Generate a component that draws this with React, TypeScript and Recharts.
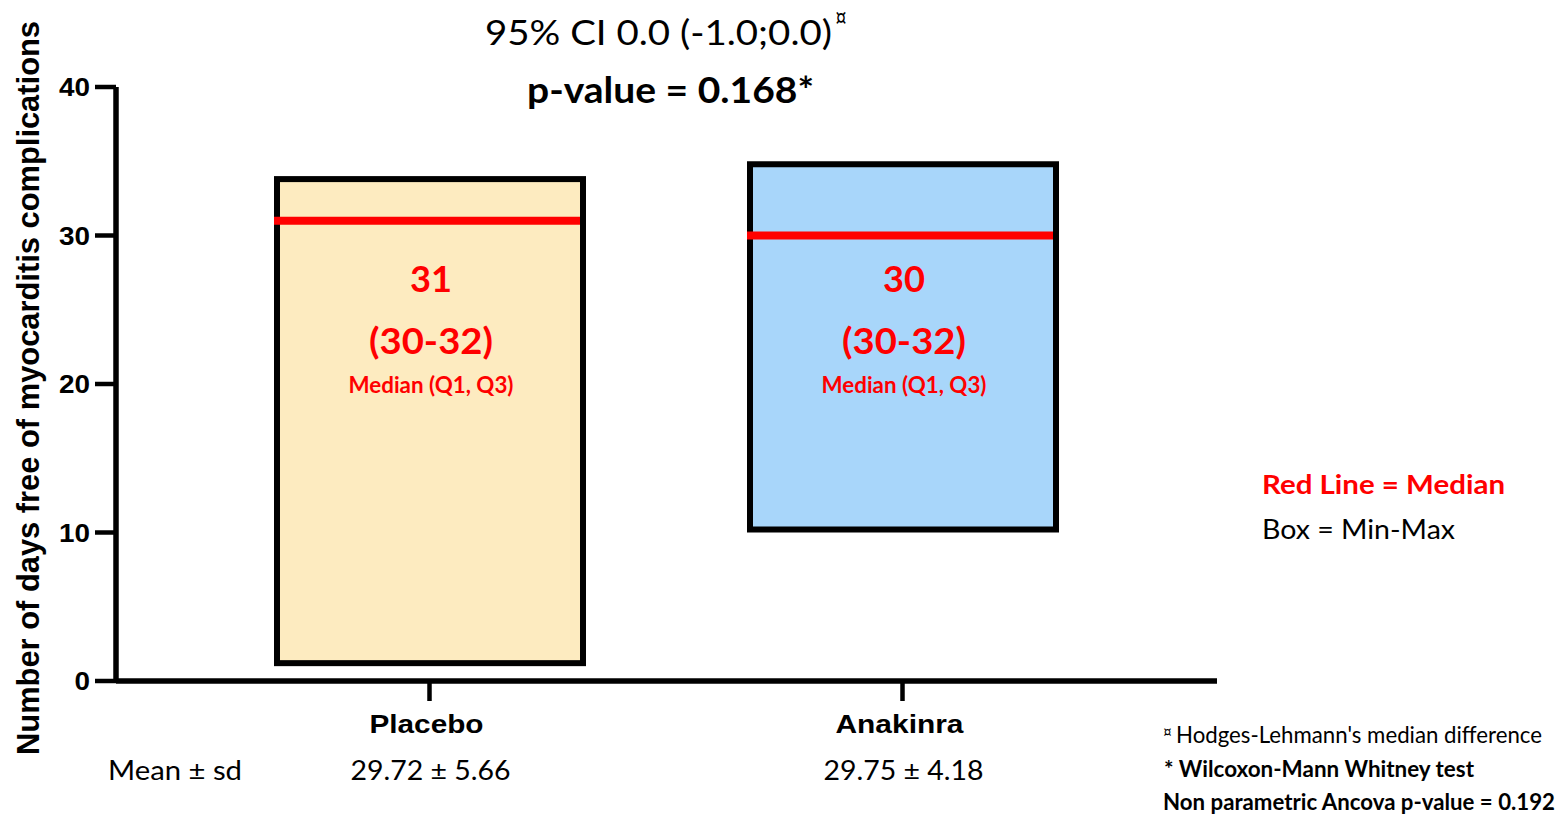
import React from 'react'
import { ComposedChart, Bar, XAxis, YAxis, LabelList } from 'recharts'

// groups and their summary values (days free of myocarditis complications)
const groups = ['Placebo', 'Anakinra']
const minVals = [1, 10]
const maxVals = [34, 35]
const medians = [31, 30]
const q1Vals = [30, 30]
const q3Vals = [32, 32]
const meanSd = ['29.72 ± 5.66', '29.75 ± 4.18']
const boxFills = ['#FDEBC0', '#A8D6FA']
const yTicks = [0, 10, 20, 30, 40]

const data = groups.map((g, i) => ({
  group: g,
  range: [minVals[i], maxVals[i]],
  median: medians[i],
  q1: q1Vals[i],
  q3: q3Vals[i],
  fill: boxFills[i],
}))

const CAL = 'Lato, "Open Sans", sans-serif'
const ARIAL = '"Liberation Sans", Arial, sans-serif'
const RED = '#FF0000'

function T({ x, y, len, size, bold, color = '#000', anchor = 'start', font = CAL, children }: any) {
  return (
    <text x={x} y={y} fontFamily={font} fontSize={size} fontWeight={bold ? 700 : 400} fill={color}
      textAnchor={anchor} textLength={len} lengthAdjust="spacingAndGlyphs">
      {children}
    </text>
  )
}

// box = min..max, stroke drawn inside the box, red line at the median
function BoxShape(props: any) {
  const { x, y, width, height, payload } = props
  const top = Math.min(y, y + height)
  const h = Math.abs(height)
  const [lo, hi] = payload.range
  const my = top + (h * (hi - payload.median)) / (hi - lo)
  const sw = 6
  return (
    <g>
      <rect x={x + sw / 2} y={top + sw / 2} width={width - sw} height={h - sw} fill={payload.fill} stroke="#000" strokeWidth={sw} />
      <line x1={x} x2={x + width - sw} y1={my} y2={my} stroke={RED} strokeWidth={8} />
    </g>
  )
}

function BoxLabels(props: any) {
  const { x, width, index } = props
  const cx = x + width / 2 + 1
  const d = data[index]
  return (
    <g>
      <T x={cx} y={292} anchor="middle" len={42} size={36} bold color={RED}>{String(d.median)}</T>
      <T x={cx} y={354} anchor="middle" len={124} size={37} bold color={RED}>{`(${d.q1}-${d.q3})`}</T>
      <T x={cx} y={393} anchor="middle" len={165} size={22} bold color={RED}>Median (Q1, Q3)</T>
    </g>
  )
}

const xLabelW = [114, 128]

function XTick(props: any) {
  const { x, payload } = props
  const i = groups.indexOf(payload.value)
  return (
    <g>
      <T x={x - 3} y={733} anchor="middle" len={xLabelW[i]} size={26} bold font={ARIAL}>{payload.value}</T>
      <T x={x + 1} y={780} anchor="middle" len={160} size={26}>{meanSd[i]}</T>
    </g>
  )
}

function YTick(props: any) {
  const { x, y, payload } = props
  const s = String(payload.value)
  return (
    <T x={x} y={y + 9} anchor="end" len={s.length * 15.5} size={25} bold font={ARIAL}>{s}</T>
  )
}

export default function App() {
  return (
    <div style={{ position: 'absolute', left: 0, top: 0, width: 1566, height: 816, background: '#fff' }}>
      <ComposedChart width={1566} height={816} data={data} margin={{ top: 87, right: 349, bottom: 75, left: 0 }}>
        <XAxis
          dataKey="group"
          type="category"
          interval={0}
          height={60}
          padding={{ left: 77, right: 78 }}
          axisLine={{ stroke: '#000', strokeWidth: 5.5 }}
          tickLine={{ stroke: '#000', strokeWidth: 4.5 }}
          tickSize={20}
          tick={<XTick />}
        />
        <YAxis
          domain={[0, 40]}
          ticks={yTicks}
          width={116}
          axisLine={{ stroke: '#000', strokeWidth: 5.5 }}
          tickLine={{ stroke: '#000', strokeWidth: 4.5 }}
          tickSize={21}
          tickMargin={5}
          tick={<YTick />}
        />
        <Bar dataKey="range" barSize={312} isAnimationActive={false} shape={<BoxShape />}>
          <LabelList dataKey="median" content={<BoxLabels />} />
        </Bar>
      </ComposedChart>
      <svg width={1566} height={816} style={{ position: 'absolute', left: 0, top: 0, pointerEvents: 'none' }}>
        <text transform="translate(39,388) rotate(-90)" fontFamily={ARIAL} fontSize={31} fontWeight={700}
          textAnchor="middle" textLength={734} lengthAdjust="spacingAndGlyphs">
          Number of days free of myocarditis complications
        </text>
        <T x={485} y={45} len={347} size={34}>95% CI 0.0 (-1.0;0.0)</T>
        <T x={835} y={27} len={12} size={26}>¤</T>
        <T x={527} y={103} len={287} size={36} bold>p-value = 0.168*</T>
        <T x={1262} y={494} len={243} size={27} bold color={RED}>Red Line = Median</T>
        <T x={1262} y={539} len={193} size={27}>Box = Min-Max</T>
        <T x={108} y={780} len={134} size={26}>Mean ± sd</T>
        <T x={1163} y={738} len={9} size={18}>¤</T>
        <T x={1176} y={743} len={366} size={23}>Hodges-Lehmann's median difference</T>
        <T x={1164} y={777} len={310} size={22} bold>* Wilcoxon-Mann Whitney test</T>
        <T x={1163} y={810} len={392} size={22} bold>Non parametric Ancova p-value = 0.192</T>
      </svg>
    </div>
  )
}
